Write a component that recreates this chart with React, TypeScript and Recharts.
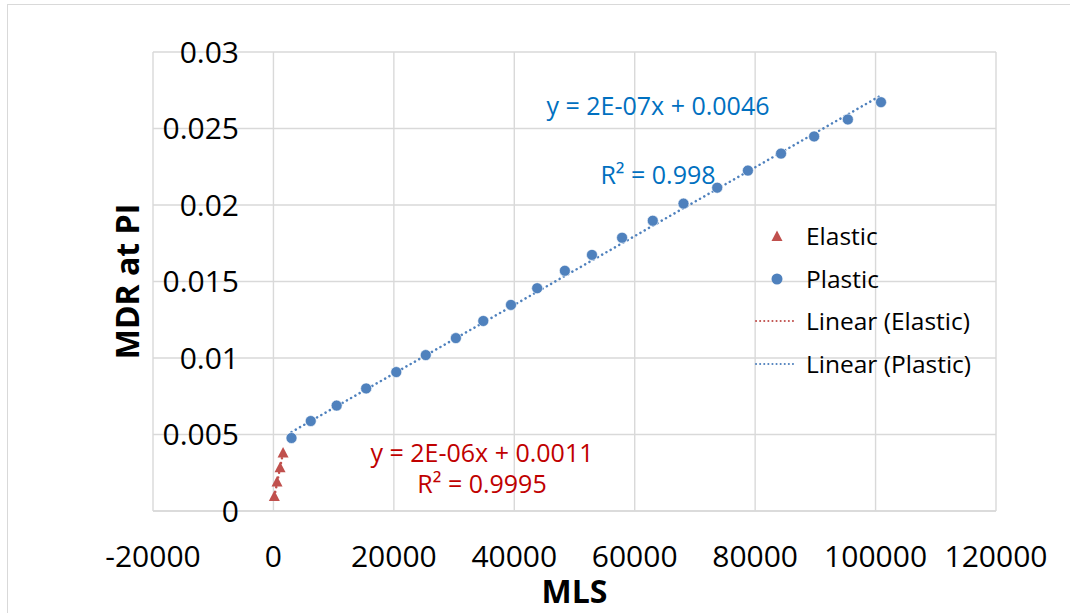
import { ScatterChart, Scatter, XAxis, YAxis, CartesianGrid, Legend } from 'recharts'

const FONT = '"Open Sans", "Noto Sans", sans-serif'

const X_TICKS = [-20000, 0, 20000, 40000, 60000, 80000, 100000, 120000]
const Y_TICKS = [0, 0.005, 0.01, 0.015, 0.02, 0.025, 0.03]

const ELASTIC_X = [150, 600, 1100, 1600]
const ELASTIC_Y = [0.00095, 0.00189, 0.00283, 0.00379]

const PLASTIC_X = [
  3000, 6200, 10500, 15400, 20400, 25300, 30300, 34850, 39450, 43800, 48400,
  52900, 57900, 63000, 68100, 73700, 78800, 84300, 89800, 95400, 100900,
]
const PLASTIC_Y = [
  0.00477, 0.00588, 0.00689, 0.00801, 0.00908, 0.01019, 0.0113, 0.01242, 0.01347, 0.01456, 0.0157,
  0.01674, 0.01786, 0.01897, 0.02009, 0.02113, 0.02225, 0.02336, 0.02448, 0.02559, 0.02672,
]

// trendline ends
const ELASTIC_TREND_X = [150, 1600]
const ELASTIC_TREND_Y = [0.00093, 0.00381]
const PLASTIC_TREND_X = [3000, 100900]
const PLASTIC_TREND_Y = [0.00516, 0.02716]

const BLUE = '#4F81BD'
const RED = '#C0504D'
const GRID = '#D9D9D9'

const toPoints = (xs: number[], ys: number[]) => xs.map((x, i) => ({ x, y: ys[i] }))

const elastic = toPoints(ELASTIC_X, ELASTIC_Y)
const plastic = toPoints(PLASTIC_X, PLASTIC_Y)
const elasticTrend = toPoints(ELASTIC_TREND_X, ELASTIC_TREND_Y)
const plasticTrend = toPoints(PLASTIC_TREND_X, PLASTIC_TREND_Y)

const Triangle = ({ cx, cy }: any) => (
  <path d={`M${cx},${cy - 6}L${cx + 5.5},${cy + 4.5}L${cx - 5.5},${cy + 4.5}Z`} fill={RED} />
)
const Dot = ({ cx, cy }: any) => <circle cx={cx} cy={cy} r={5.5} fill={BLUE} stroke="#fff" strokeWidth={0.6} />
const NoShape = () => <g />

const YTick = ({ x, y, payload }: any) => (
  <text x={x + 86} y={y} dy="0.355em" textAnchor="end" fontSize={30} fontFamily={FONT} fill="#000">
    {String(payload.value)}
  </text>
)

const dotted = { strokeWidth: 2.5, strokeDasharray: '0.1 4.8', strokeLinecap: 'round' as const }

const LEGEND_ITEMS = [
  { label: 'Elastic', kind: 'triangle', color: RED },
  { label: 'Plastic', kind: 'circle', color: BLUE },
  { label: 'Linear (Elastic)', kind: 'line', color: RED },
  { label: 'Linear (Plastic)', kind: 'line', color: BLUE },
]

function renderLegend() {
  return (
    <div style={{ fontFamily: FONT, fontSize: 24.5, color: '#000' }}>
      {LEGEND_ITEMS.map((item) => (
        <div key={item.label} style={{ display: 'flex', alignItems: 'center', height: 42.5 }}>
          <svg width={61} height={20} style={{ display: 'block' }}>
            {item.kind === 'triangle' && <path d="M32,4.5L37.5,15L26.5,15Z" fill={item.color} />}
            {item.kind === 'circle' && <circle cx={32} cy={10} r={5.5} fill={item.color} />}
            {item.kind === 'line' && (
              <line x1={11} y1={10} x2={52} y2={10} stroke={item.color} strokeWidth={2} strokeDasharray="0.1 4" strokeLinecap="round" />
            )}
          </svg>
          <span style={{ lineHeight: 1 }}>{item.label}</span>
        </div>
      ))}
    </div>
  )
}

export default function App() {
  return (
    <div style={{ position: 'absolute', left: 0, top: 0, width: 1070, height: 613, background: '#fff', overflow: 'hidden' }}>
      <div style={{ position: 'absolute', left: 7, top: 4, right: -2, bottom: -2, borderLeft: `1.5px solid ${GRID}`, borderTop: `1.5px solid ${GRID}` }} />
      <ScatterChart width={1070} height={613} margin={{ top: 52, right: 74, bottom: 0, left: 0 }}>
        <CartesianGrid stroke={GRID} strokeWidth={1.4} />
        <XAxis
          type="number"
          dataKey="x"
          domain={[-20000, 120000]}
          ticks={X_TICKS}
          interval={0}
          height={102}
          tickSize={0}
          tickMargin={35}
          tick={{ fontSize: 30, fontFamily: FONT, fill: '#000' }}
          axisLine={{ stroke: GRID, strokeWidth: 1.5 }}
          label={({ viewBox }: any) => (
            <text x={viewBox.x + viewBox.width / 2} y={603} textAnchor="middle" fontSize={32} fontWeight="bold" fontFamily={FONT} fill="#000">
              MLS
            </text>
          )}
        />
        <YAxis
          type="number"
          dataKey="y"
          domain={[0, 0.03]}
          ticks={Y_TICKS}
          interval={0}
          width={153}
          tickSize={0}
          tickMargin={0}
          axisLine={false}
          tick={<YTick />}
          label={({ viewBox }: any) => {
            const cx = 128
            const cy = viewBox.y + viewBox.height / 2
            return (
              <text x={cx} y={cy} dy="0.355em" transform={`rotate(-90 ${cx} ${cy})`} textAnchor="middle" fontSize={32} fontWeight="bold" fontFamily={FONT} fill="#000">
                MDR at PI
              </text>
            )
          }}
        />
        <Legend
          layout="vertical"
          align="center"
          verticalAlign="middle"
          content={renderLegend}
          wrapperStyle={{ left: 745, top: 215, width: 'auto' }}
        />
        <Scatter name="Linear (Elastic)" data={elasticTrend} fill={RED} line={{ stroke: RED, ...dotted }} shape={NoShape} isAnimationActive={false} />
        <Scatter name="Linear (Plastic)" data={plasticTrend} fill={BLUE} line={{ stroke: BLUE, ...dotted }} shape={NoShape} isAnimationActive={false} />
        <Scatter name="Elastic" data={elastic} fill={RED} shape={Triangle} isAnimationActive={false} />
        <Scatter name="Plastic" data={plastic} fill={BLUE} shape={Dot} isAnimationActive={false} />
      </ScatterChart>
      <svg width={1070} height={613} style={{ position: 'absolute', left: 0, top: 0, pointerEvents: 'none' }} fontFamily={FONT} fontSize={25}>
        <text x={658} y={115} textAnchor="middle" fill="#0070C0">y = 2E-07x + 0.0046</text>
        <text x={658} y={183.5} textAnchor="middle" fill="#0070C0">R² = 0.998</text>
        <text x={482} y={461.5} textAnchor="middle" fill="#C00000">y = 2E-06x + 0.0011</text>
        <text x={482} y={492.5} textAnchor="middle" fill="#C00000">R² = 0.9995</text>
      </svg>
    </div>
  )
}
